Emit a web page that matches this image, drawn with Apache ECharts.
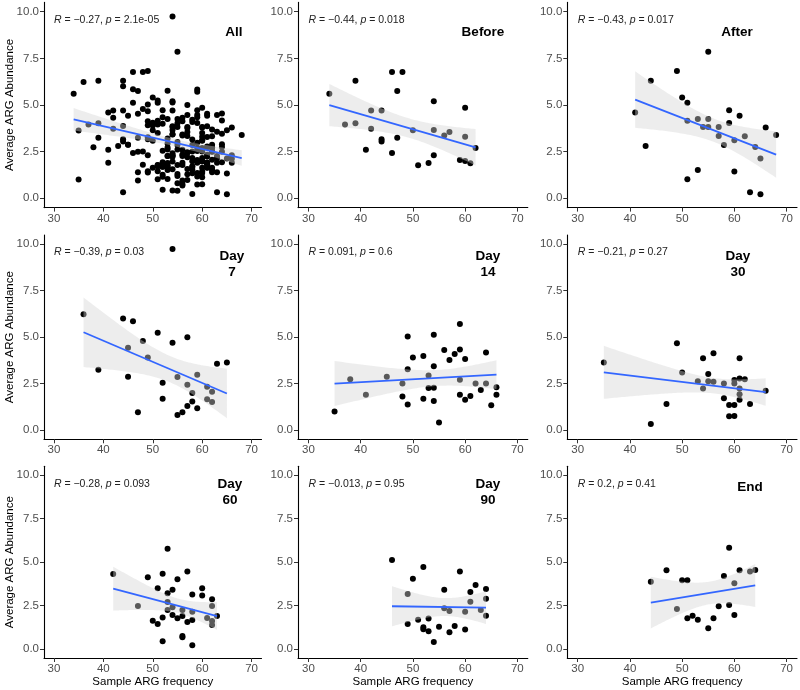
<!DOCTYPE html>
<html lang="en">
<head>
  <meta charset="utf-8">
  <script src="https://cdn.jsdelivr.net/npm/echarts@6.0.0/dist/echarts.min.js"></script>
</head>
<body style="margin: 0; background: #fff">
  <div id="container" style="width: 800px; height: 690px"></div>
  <script>
    // panel titles and the stat_cor text
    var panelNames = ['All', 'Before', 'After', 'Day\n7', 'Day\n14', 'Day\n30', 'Day\n60', 'Day\n90', 'End'];
    var statR = ['\u22120.27', '\u22120.44', '\u22120.43', '\u22120.39', '0.091', '\u22120.21', '\u22120.28', '\u22120.013', '0.2'];
    var statP = ['2.1e-05', '0.018', '0.017', '0.03', '0.6', '0.27', '0.093', '0.95', '0.41'];
    var xTicks = [30, 40, 50, 60, 70];
    var yTicks = [0, 2.5, 5, 7.5, 10];

    // samples per time point (x = sample ARG frequency, y = average ARG abundance)
    var beforeX = [34, 37, 39, 39, 41, 42, 42, 44, 44, 44, 46, 46, 47, 47, 48, 50, 51, 53, 54, 54, 54, 56, 57, 59, 60, 60, 60, 61, 62];
    var beforeY = [5.6, 3.95, 6.3, 4.02, 2.6, 4.7, 3.73, 4.7, 3.16, 3.05, 6.77, 2.43, 5.75, 3.25, 6.77, 3.64, 1.77, 1.89, 5.2, 3.66, 2.3, 3.36, 3.55, 2.05, 2.0, 4.85, 3.3, 1.88, 2.7];

    var afterX = [41, 43, 44, 49, 50, 51, 51, 51, 53, 53, 54, 55, 55, 55, 57, 57, 58, 59, 59, 60, 60, 61, 62, 63, 64, 65, 65, 66, 68];
    var afterY = [4.6, 2.8, 6.3, 6.82, 5.4, 5.12, 4.16, 1.02, 4.25, 1.52, 3.82, 7.86, 4.25, 3.82, 3.82, 3.34, 2.86, 4.72, 4.04, 3.11, 1.43, 4.43, 3.32, 0.32, 2.75, 2.13, 0.21, 3.8, 3.39];

    var day7X = [36, 39, 44, 45, 45, 46, 47, 48, 49, 51, 52, 52, 54, 54, 55, 55, 56, 57, 57, 57, 58, 58, 59, 59, 61, 61, 62, 62, 63, 65];
    var day7Y = [6.23, 3.25, 6.0, 4.43, 2.87, 5.85, 0.95, 4.79, 3.91, 5.24, 2.55, 1.69, 9.75, 4.7, 2.85, 0.81, 0.95, 5.0, 2.44, 1.29, 1.99, 1.54, 2.98, 1.17, 2.33, 1.65, 2.06, 1.51, 3.57, 3.64];

    var day14X = [35, 38, 41, 45, 48, 48, 49, 49, 49, 50, 52, 52, 53, 53, 54, 54, 54, 54, 55, 56, 57, 58, 59, 59, 59, 59, 60, 60, 61, 62, 63, 64, 64, 65, 66, 66];
    var day14Y = [1.0, 2.73, 1.9, 2.87, 2.51, 1.8, 5.03, 3.27, 1.38, 3.9, 3.99, 1.69, 2.93, 2.26, 5.13, 3.43, 2.28, 1.56, 0.4, 4.31, 3.77, 4.09, 5.71, 4.34, 2.71, 1.9, 3.82, 1.63, 1.83, 2.51, 2.15, 4.17, 2.5, 1.33, 2.3, 1.9];

    var day30X = [35, 44, 47, 49, 50, 53, 54, 54, 55, 55, 56, 56, 58, 58, 59, 59, 60, 60, 60, 60, 61, 61, 61, 61, 61, 62, 63, 66];
    var day30Y = [3.63, 0.32, 1.4, 4.67, 3.09, 2.62, 3.86, 2.23, 3.02, 2.62, 4.13, 2.6, 2.51, 1.71, 1.35, 0.74, 2.69, 2.51, 1.35, 0.75, 3.86, 2.78, 2.24, 1.92, 1.63, 2.73, 1.4, 2.12];

    var day60X = [42, 47, 49, 50, 51, 51, 52, 52, 52, 53, 53, 53, 53, 54, 54, 54, 55, 55, 56, 56, 56, 56, 57, 57, 58, 58, 58, 58, 60, 60, 61, 62, 62, 62, 62, 63];
    var day60Y = [4.32, 2.49, 4.13, 1.64, 3.5, 1.45, 4.34, 1.82, 0.46, 5.77, 3.21, 2.72, 2.26, 3.42, 2.41, 1.97, 4.02, 1.78, 2.26, 1.91, 0.76, 0.69, 4.46, 1.57, 3.15, 2.16, 1.68, 0.23, 3.5, 3.08, 1.8, 2.87, 2.49, 1.63, 1.4, 1.91];

    var day90X = [46, 49, 49, 50, 51, 52, 52, 52, 53, 53, 54, 55, 56, 56, 57, 57, 58, 59, 60, 60, 61, 61, 62, 63, 64, 64, 64];
    var day90Y = [5.12, 3.17, 1.45, 4.05, 1.7, 4.72, 1.26, 1.15, 1.76, 1.03, 0.42, 1.3, 3.42, 2.35, 2.2, 0.98, 1.34, 4.46, 2.16, 1.13, 3.29, 2.73, 3.69, 2.26, 3.46, 2.9, 1.93];

    var endX = [44, 47, 49, 50, 51, 51, 52, 53, 55, 56, 57, 58, 59, 59, 60, 60, 61, 63, 64];
    var endY = [3.88, 4.53, 2.31, 3.96, 3.96, 1.78, 1.93, 1.7, 1.2, 1.78, 2.47, 4.21, 5.83, 2.54, 3.79, 1.97, 4.53, 4.46, 4.55];

    // "All" is every sample together
    var allX = [].concat(beforeX, afterX, day7X, day14X, day30X, day60X, day90X, endX);
    var allY = [].concat(beforeY, afterY, day7Y, day14Y, day30Y, day60Y, day90Y, endY);

    var panelX = [allX, beforeX, afterX, day7X, day14X, day30X, day60X, day90X, endX];
    var panelY = [allY, beforeY, afterY, day7Y, day14Y, day30Y, day60Y, day90Y, endY];

    // layout (px)
    var colLeft = [44, 298, 567.3];
    var colWidth = [217.5, 229.8, 229.7];
    var rowTop = [2.4, 235, 466.3];
    var rowHeight = [205.2, 204.3, 191.7];
    var labelPos = [[234, 32], [483, 32], [737, 32], [232, 264], [488, 264], [738, 264], [230, 492.5], [488, 492.5], [750, 487.3]];

    var font = "'Liberation Sans', Arial, Helvetica, sans-serif";

    // 97.5% quantile of Student t (Cornish-Fisher expansion)
    function tQuant(v) {
      var z = 1.959964, z3 = z * z * z, z5 = z3 * z * z, z7 = z5 * z * z;
      return z + (z3 + z) / (4 * v) + (5 * z5 + 16 * z3 + 3 * z) / (96 * v * v) +
        (3 * z7 + 19 * z5 + 17 * z3 - 15 * z) / (384 * v * v * v);
    }

    // lm fit + 95% confidence band, like geom_smooth(method = "lm")
    function lmFit(xs, ys) {
      var n = xs.length, mx = 0, my = 0, sxx = 0, sxy = 0, sse = 0, i;
      for (i = 0; i < n; i++) { mx += xs[i]; my += ys[i]; }
      mx /= n; my /= n;
      for (i = 0; i < n; i++) {
        sxx += (xs[i] - mx) * (xs[i] - mx);
        sxy += (xs[i] - mx) * (ys[i] - my);
      }
      var b = sxy / sxx, a = my - b * mx;
      for (i = 0; i < n; i++) sse += Math.pow(ys[i] - a - b * xs[i], 2);
      var s = Math.sqrt(sse / (n - 2)), t = tQuant(n - 2);
      var xmin = Math.min.apply(null, xs), xmax = Math.max.apply(null, xs);
      var band = [];
      for (i = 0; i < 80; i++) {
        var x = xmin + (xmax - xmin) * i / 79;
        var yh = a + b * x;
        var se = s * Math.sqrt(1 / n + (x - mx) * (x - mx) / sxx);
        band.push([x, yh - t * se, yh + t * se]);
      }
      return { line: [[xmin, a + b * xmin], [xmax, a + b * xmax]], band: band };
    }

    var dom = document.getElementById('container');
    var myChart = echarts.init(dom, null, { renderer: 'canvas' });

    var option = {
      animation: false,
      backgroundColor: '#fff',
      grid: [], xAxis: [], yAxis: [], series: [], graphic: []
    };

    for (var i = 0; i < 9; i++) {
      var r = Math.floor(i / 3), c = i % 3;
      option.grid.push({ left: colLeft[c], top: rowTop[r], width: colWidth[c], height: rowHeight[r] });

      option.xAxis.push({
        type: 'value', gridIndex: i, min: 28, max: 72,
        axisLine: { onZero: false, lineStyle: { color: '#000', width: 1.1 } },
        axisTick: { customValues: xTicks, length: 4, lineStyle: { color: '#333' } },
        axisLabel: { customValues: xTicks, color: '#4d4d4d', fontSize: 11.5, margin: 5, fontFamily: font },
        splitLine: { show: false },
        name: r === 2 ? 'Sample ARG frequency' : '',
        nameLocation: 'middle', nameGap: 17,
        nameTextStyle: { color: '#000', fontSize: 11.5, fontFamily: font }
      });
      option.yAxis.push({
        type: 'value', gridIndex: i, min: -0.5, max: 10.5,
        axisLine: { onZero: false, lineStyle: { color: '#000', width: 1.1 } },
        axisTick: { customValues: yTicks, length: 4, lineStyle: { color: '#333' } },
        axisLabel: {
          customValues: yTicks, color: '#4d4d4d', fontSize: 11.5, margin: 5, fontFamily: font,
          formatter: function (v) { return v.toFixed(1); }
        },
        splitLine: { show: false }
      });

      var pts = panelX[i].map(function (x, k) { return [x, panelY[i][k]]; });
      var fit = lmFit(panelX[i], panelY[i]);

      option.series.push({
        type: 'scatter', xAxisIndex: i, yAxisIndex: i, data: pts,
        symbolSize: 6, itemStyle: { color: '#000', opacity: 1 }, z: 2, silent: true
      });
      option.series.push({
        type: 'custom', xAxisIndex: i, yAxisIndex: i, data: fit.band, z: 3, silent: true,
        renderItem: (function (band) {
          return function (params, api) {
            if (params.dataIndex !== 0) return null;
            var up = band.map(function (d) { return api.coord([d[0], d[2]]); });
            var lo = band.map(function (d) { return api.coord([d[0], d[1]]); }).reverse();
            return { type: 'polygon', shape: { points: up.concat(lo) }, style: { fill: 'rgba(211,211,211,0.42)' } };
          };
        })(fit.band)
      });
      option.series.push({
        type: 'line', xAxisIndex: i, yAxisIndex: i, data: fit.line, z: 4, silent: true,
        symbol: 'none', lineStyle: { color: '#3366FF', width: 1.8 }
      });

      // stat_cor text, left edge at x = 30
      option.graphic.push({
        type: 'text',
        x: colLeft[c] + colWidth[c] * 2 / 44,
        y: rowTop[r] + 17.5,
        style: {
          text: '{i|R} = ' + statR[i] + ', {i|p} = ' + statP[i],
          rich: { i: { fontStyle: 'italic', fontSize: 10.5, fontFamily: font, fill: '#222' } },
          fontSize: 10.5, fontFamily: font, fill: '#222', textVerticalAlign: 'middle'
        }
      });
      // panel label
      option.graphic.push({
        type: 'text', x: labelPos[i][0], y: labelPos[i][1],
        style: {
          text: panelNames[i], fontSize: 13.5, fontWeight: 'bold', fontFamily: font, fill: '#000',
          textAlign: 'center', textVerticalAlign: 'middle', lineHeight: 16
        }
      });
      if (c === 0) {
        option.graphic.push({
          type: 'text', x: 10, y: rowTop[r] + rowHeight[r] / 2, rotation: Math.PI / 2,
          style: {
            text: 'Average ARG Abundance', fontSize: 11.5, fontFamily: font, fill: '#000',
            textAlign: 'center', textVerticalAlign: 'middle'
          }
        });
      }
    }

    myChart.setOption(option);
    window.addEventListener('resize', myChart.resize);
  </script>
</body>
</html>
